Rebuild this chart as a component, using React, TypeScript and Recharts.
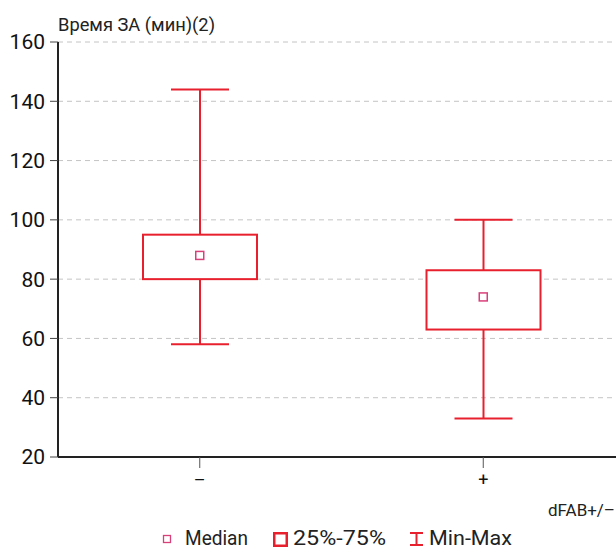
import {
  Bar,
  CartesianGrid,
  ComposedChart,
  Legend,
  Scatter,
  XAxis,
  YAxis,
} from "recharts";

const categories = ["–", "+"];
const minVals = [58, 33];
const q1Vals = [80, 63];
const medianVals = [88, 74];
const q3Vals = [95, 83];
const maxVals = [144, 100];
const yTicks = [20, 40, 60, 80, 100, 120, 140, 160];

const FONT = "Roboto, 'Liberation Sans', sans-serif";
const RED = "#e8202e";
const PINK = "#d9407a";

const data = categories.map((cat, i) => ({
  cat,
  range: [minVals[i], maxVals[i]],
  min: minVals[i],
  q1: q1Vals[i],
  median: medianVals[i],
  q3: q3Vals[i],
  max: maxVals[i],
}));

/** 须线 + 箱体,全部由 bar 的 [min,max] 像素范围换算 */
function WhiskerBox(props: any) {
  const { x, y, width, height, payload } = props;
  const h = Math.abs(height);
  const top = Math.min(y, y + height);
  const ppu = h / (payload.max - payload.min);
  const yAt = (v: number) => top + (payload.max - v) * ppu;
  const cx = x + width / 2;
  const cap = 29;
  return (
    <g stroke={RED} strokeWidth={2} fill="none">
      <line x1={cx} x2={cx} y1={yAt(payload.max)} y2={yAt(payload.min)} />
      <line x1={cx - cap} x2={cx + cap} y1={yAt(payload.max)} y2={yAt(payload.max)} />
      <line x1={cx - cap} x2={cx + cap} y1={yAt(payload.min)} y2={yAt(payload.min)} />
      <rect
        x={x}
        y={yAt(payload.q3)}
        width={width}
        height={yAt(payload.q1) - yAt(payload.q3)}
        fill="#fff"
      />
    </g>
  );
}

function MedianMark(props: any) {
  const { cx, cy } = props;
  return <rect x={cx - 4} y={cy - 4} width={8} height={8} fill="#fff" stroke={PINK} strokeWidth={1.5} />;
}

function LegendBox() {
  const txt = { fontFamily: FONT, fontSize: 20, fill: "#222" };
  return (
    <svg width={625} height={23} style={{ display: "block" }}>
      <rect x={163.5} y={8.5} width={7} height={7} fill="#fff" stroke={PINK} strokeWidth={1.3} />
      <text x={185} y={18} {...txt} textLength={63} lengthAdjust="spacingAndGlyphs">
        Median
      </text>
      <rect x={274.25} y={6.25} width={12.5} height={12.5} fill="#fff" stroke={RED} strokeWidth={2.5} />
      <text x={293} y={18} {...txt} textLength={93} lengthAdjust="spacingAndGlyphs">
        25%-75%
      </text>
      <g stroke={RED} strokeWidth={2}>
        <line x1={410} x2={423} y1={6} y2={6} />
        <line x1={416.5} x2={416.5} y1={6} y2={18} />
        <line x1={410} x2={423} y1={18} y2={18} />
      </g>
      <text x={429} y={18} {...txt} textLength={83} lengthAdjust="spacingAndGlyphs">
        Min-Max
      </text>
    </svg>
  );
}

export default function App() {
  return (
    <div style={{ width: 616, height: 550, overflow: "hidden", background: "#fff" }}>
      <style>{"body{margin:0}"}</style>
      <ComposedChart
        width={625}
        height={550}
        data={data}
        margin={{ top: 42, right: 0, bottom: 0, left: 0 }}
      >
        <CartesianGrid
          horizontal
          vertical={false}
          stroke="#c4c4c4"
          strokeDasharray="5 4"
        />
        <XAxis
          dataKey="cat"
          height={70}
          tickSize={11}
          tickMargin={5}
          tick={{ fontFamily: FONT, fontSize: 18, fill: "#111" }}
          tickLine={{ stroke: "#555" }}
          axisLine={{ stroke: "#222", strokeWidth: 2 }}
          label={{
            content: ({ viewBox }: any) => (
              <text
                x={548}
                y={viewBox.y + 59}
                fontFamily={FONT}
                fontSize={16}
                fill="#222"
                textLength={67}
                lengthAdjust="spacingAndGlyphs"
              >
                dFAB+/–
              </text>
            ),
          }}
        />
        <YAxis
          width={58}
          domain={[20, 160]}
          ticks={yTicks}
          tickSize={8}
          tickMargin={5}
          tick={{ fontFamily: FONT, fontSize: 21, fill: "#111" }}
          tickLine={{ stroke: "#444" }}
          axisLine={{ stroke: "#222", strokeWidth: 2 }}
          label={{
            content: ({ viewBox }: any) => (
              <text
                x={viewBox.x + viewBox.width}
                y={viewBox.y - 11}
                fontFamily={FONT}
                fontSize={18}
                fill="#222"
                textLength={157}
                lengthAdjust="spacingAndGlyphs"
              >
                Время ЗА (мин)(2)
              </text>
            ),
          }}
        />
        <Legend
          verticalAlign="bottom"
          content={() => <LegendBox />}
          wrapperStyle={{ left: 0, width: 625, height: 23 }}
        />
        <Bar dataKey="range" barSize={114} shape={WhiskerBox} isAnimationActive={false} legendType="none" />
        <Scatter dataKey="median" shape={MedianMark} isAnimationActive={false} legendType="none" />
      </ComposedChart>
    </div>
  );
}
